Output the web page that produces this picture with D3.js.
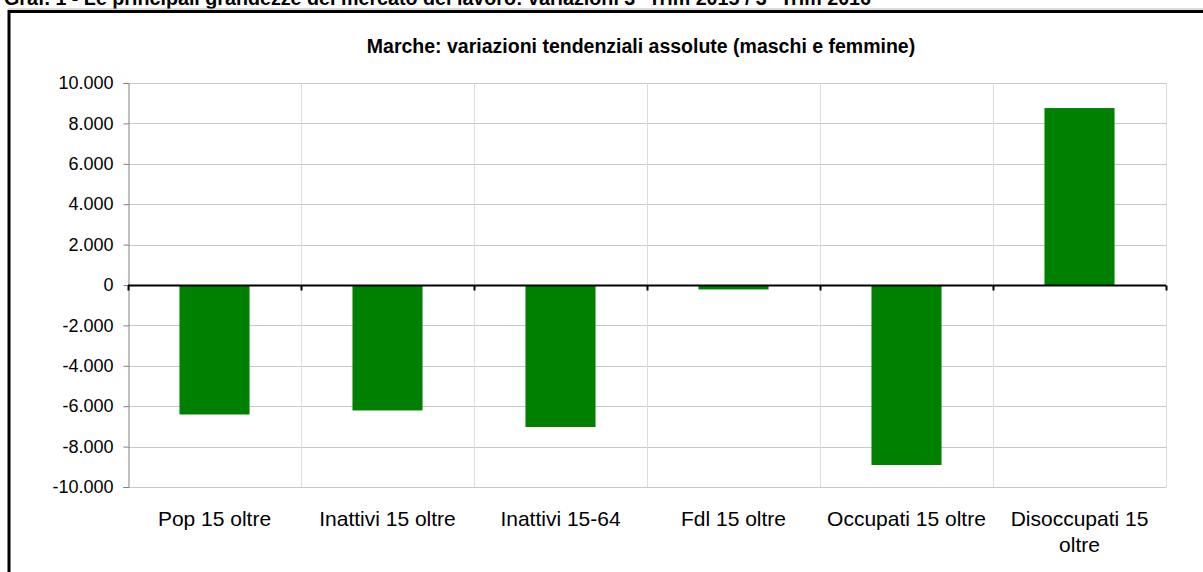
<!DOCTYPE html>
<html lang="it">
<head>
  <meta charset="UTF-8">
  <title>Marche: variazioni tendenziali assolute</title>
  <style>
    body { margin: 0; padding: 0; background: #fff; }
    svg { display: block; font-family: Arial, "Liberation Sans", sans-serif; }
  </style>
</head>
<body>
  <svg width="1203" height="572"></svg>

  <script src="https://d3js.org/d3.v7.min.js"></script>
  <script>
    const categories = ["Pop 15 oltre", "Inattivi 15 oltre", "Inattivi 15-64", "Fdl 15 oltre", "Occupati 15 oltre", "Disoccupati 15 oltre"];
    const values = [-6410, -6210, -7030, -220, -8910, 8760];
    const yTicks = [-10000, -8000, -6000, -4000, -2000, 0, 2000, 4000, 6000, 8000, 10000];

    const svg = d3.select("svg");
    const plotLeft = 128, plotRight = 1166, plotTop = 83, plotBottom = 487;
    const font = "Arial, 'Liberation Sans', sans-serif";

    const x = d3.scaleBand().domain(categories).range([plotLeft, plotRight]).paddingInner(0).paddingOuter(0);
    const y = d3.scaleLinear().domain([-10000, 10000]).range([plotBottom, plotTop]);
    // Italian style: dot thousands, plain hyphen for minus
    const fmt = d => (d < 0 ? "-" : "") + d3.format(",")(Math.abs(d)).replace(/,/g, ".");

    // page heading, clipped at top
    svg.append("text")
      .attr("x", 4).attr("y", 5)
      .attr("font-size", 19.7).attr("font-weight", "bold")
      .text("Graf. 1 - Le principali grandezze del mercato del lavoro: variazioni 3° Trim 2015 / 3° Trim 2016");

    svg.append("line").attr("x1", 8).attr("x2", 1203).attr("y1", 9).attr("y2", 9).attr("stroke", "#bbb");
    svg.append("path").attr("d", "M9,572V11.5H1203").attr("fill", "none").attr("stroke", "#000").attr("stroke-width", 3);

    svg.append("text")
      .attr("x", 641).attr("y", 53)
      .attr("text-anchor", "middle").attr("font-size", 19.5).attr("font-weight", "bold")
      .text("Marche: variazioni tendenziali assolute (maschi e femmine)");

    // horizontal grid
    svg.append("g").selectAll("line").data(yTicks).join("line")
      .attr("x1", plotLeft).attr("x2", plotRight)
      .attr("y1", d => Math.round(y(d)) + 0.5).attr("y2", d => Math.round(y(d)) + 0.5)
      .attr("stroke", "#c8c8c8");

    // vertical grid at category boundaries
    const bounds = categories.map(c => x(c)).concat([plotRight]);
    svg.append("g").selectAll("line").data(bounds.slice(1)).join("line")
      .attr("x1", d => Math.round(d) + 0.5).attr("x2", d => Math.round(d) + 0.5)
      .attr("y1", plotTop).attr("y2", plotBottom)
      .attr("stroke", "#dcdcdc");

    // bars
    const bw = x.bandwidth() * 0.405;
    svg.append("g").selectAll("rect").data(values).join("rect")
      .attr("x", (d, i) => x(categories[i]) + (x.bandwidth() - bw) / 2)
      .attr("width", bw)
      .attr("y", d => y(Math.max(0, d)))
      .attr("height", d => Math.abs(y(d) - y(0)))
      .attr("fill", "#008000");

    // y axis
    const yAxis = svg.append("g")
      .attr("transform", `translate(${plotLeft + 0.5},0)`)
      .call(d3.axisLeft(y).tickValues(yTicks).tickFormat(fmt).tickSize(5).tickPadding(10));
    yAxis.select(".domain").attr("stroke", "#808080");
    yAxis.selectAll(".tick line").attr("stroke", "#808080");
    yAxis.selectAll("text").attr("font-size", 18).attr("fill", "#000").attr("font-family", font);

    // zero line with ticks
    const zy = Math.round(y(0)) + 0.5;
    svg.append("line").attr("x1", plotLeft).attr("x2", plotRight).attr("y1", zy).attr("y2", zy)
      .attr("stroke", "#000").attr("stroke-width", 2);
    svg.append("g").selectAll("line").data(bounds).join("line")
      .attr("x1", d => Math.round(d) + 0.5).attr("x2", d => Math.round(d) + 0.5)
      .attr("y1", zy).attr("y2", zy + 5)
      .attr("stroke", "#000").attr("stroke-width", 2);

    // category labels
    const labels = svg.append("g").selectAll("text").data(categories).join("text")
      .attr("text-anchor", "middle").attr("font-size", 21)
      .attr("x", c => x(c) + x.bandwidth() / 2)
      .attr("y", 526);
    labels.each(function(c) {
      const t = d3.select(this);
      const lines = c === "Disoccupati 15 oltre" ? ["Disoccupati 15", "oltre"] : [c];
      lines.forEach((l, i) => t.append("tspan")
        .attr("x", t.attr("x")).attr("dy", i ? 26 : 0).text(l));
    });
  </script>
</body>
</html>
